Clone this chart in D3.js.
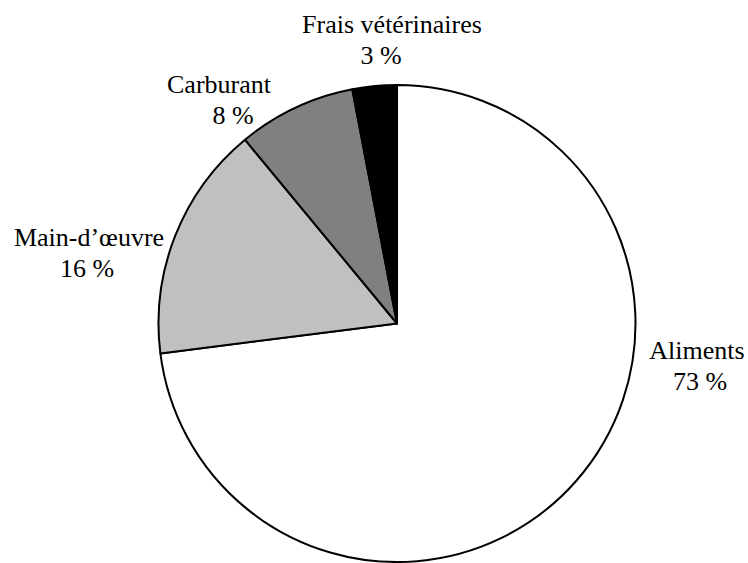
<!DOCTYPE html>
<html>
<head>
<meta charset="utf-8">
<style>
    body { margin: 0; background: #fff; }
    svg { display: block; }
</style>
</head>
<body>
<script src="https://d3js.org/d3.v7.min.js"></script>
<script>

    // data
    var categories = ["Aliments", "Main-d\u2019\u0153uvre", "Carburant", "Frais v\u00e9t\u00e9rinaires"];
    var values = [73, 16, 8, 3];
    var percentLabels = ["73 %", "16 %", "8 %", "3 %"];

    // styles / layout
    var fills = ["#ffffff", "#c0c0c0", "#808080", "#000000"];
    // label centre relative to pie centre: [x of name, x of percent, baseline of name]
    var labelPos = [
        [300, 303, 35],
        [-308, -310, -78],
        [-178, -164, -231],
        [-5, -16, -291]
    ];

    var width = 748, height = 563;
    var cx = 397, cy = 323.5, radius = 238.5;

    var svg = d3.select("body").append("svg")
        .attr("width", width)
        .attr("height", height);

    var g = svg.append("g")
        .attr("transform", "translate(" + cx + "," + cy + ")");

    var pie = d3.pie().sort(null).value(function(d) { return d; });
    var arc = d3.arc().innerRadius(0).outerRadius(radius);

    var arcs = pie(values);

    g.selectAll("path")
        .data(arcs)
        .enter().append("path")
        .attr("d", arc)
        .attr("fill", function(d, i) { return fills[i]; })
        .attr("stroke", "#000")
        .attr("stroke-width", 2)
        .attr("stroke-linejoin", "round");

    // centre each line by measuring it instead of using text-anchor
    function addLine(txt, x, y) {
        var t = svg.append("text")
            .style("font-family", "serif")
            .attr("font-size", 26)
            .attr("y", y)
            .text(txt);
        var w = t.node().getComputedTextLength();
        t.attr("x", x - w / 2);
    }

    categories.forEach(function(name, i) {
        addLine(name, cx + labelPos[i][0], cy + labelPos[i][2]);
        addLine(percentLabels[i], cx + labelPos[i][1], cy + labelPos[i][2] + 31);
    });

</script>
</body>
</html>
